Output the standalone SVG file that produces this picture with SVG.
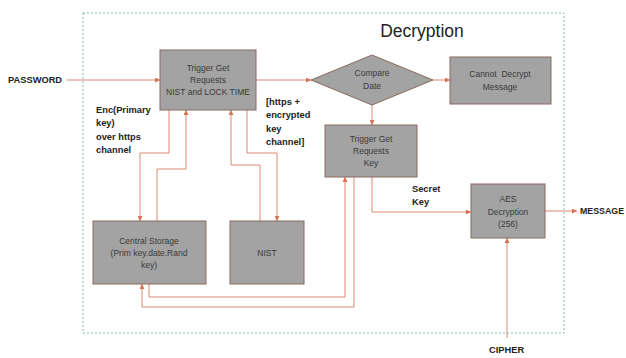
<svg xmlns="http://www.w3.org/2000/svg" width="626" height="358" viewBox="0 0 626 358">
<style>
.box{fill:#a3a3a3;stroke:#8a6a60;stroke-width:1}
.t{font-family:"Liberation Sans",Arial,sans-serif;font-size:8.5px;fill:#3a3a3a;text-anchor:middle}
.b{font-family:"Liberation Sans",Arial,sans-serif;font-size:9.3px;font-weight:bold;fill:#222}
.c{fill:none;stroke:#d98a70;stroke-width:1}
</style>
<defs>
<marker id="a" viewBox="0 0 6 6" refX="6" refY="3" markerWidth="5" markerHeight="5" orient="auto">
<path d="M0,0 L6,3 L0,6 z" fill="#d9704f"/>
</marker>
</defs>
<rect width="626" height="358" fill="#fff"/>
<rect x="83" y="13" width="481" height="320" fill="none" stroke="#7fbfb0" stroke-width="1" stroke-dasharray="2,2"/>
<text x="422" y="37" font-family="Liberation Sans,Arial,sans-serif" font-size="17.5" fill="#222" text-anchor="middle">Decryption</text>

<g id="connectors">
<path class="c" d="M67,80 H160" marker-end="url(#a)"/>
<path class="c" d="M256,80 H311" marker-end="url(#a)"/>
<path class="c" d="M433,80 H450" marker-end="url(#a)"/>
<path class="c" d="M372,105 V125" marker-end="url(#a)"/>
<path class="c" d="M169,110 V153 H140 V221" marker-end="url(#a)"/>
<path class="c" d="M157,221 V169 H186 V110" marker-end="url(#a)"/>
<path class="c" d="M260,221 V165 H231 V110" marker-end="url(#a)"/>
<path class="c" d="M247,110 V153 H277 V221" marker-end="url(#a)"/>
<path class="c" d="M149,284 V297 H345 V177" marker-end="url(#a)"/>
<path class="c" d="M354,177 V307 H142 V284" marker-end="url(#a)"/>
<path class="c" d="M372,177 V212 H471" marker-end="url(#a)"/>
<path class="c" d="M545,211 H577" marker-end="url(#a)"/>
<path class="c" d="M507,338 V238" marker-end="url(#a)"/>
</g>

<g id="password"><text class="b" x="8" y="83">PASSWORD</text></g>
<g id="message"><text class="b" x="580" y="214" textLength="44" lengthAdjust="spacingAndGlyphs">MESSAGE</text></g>
<g id="cipher"><text class="b" x="489" y="353">CIPHER</text></g>
<g id="label-enc">
<text class="b" x="96" y="113">Enc(Primary</text>
<text class="b" x="96" y="126">key)</text>
<text class="b" x="96" y="140">over https</text>
<text class="b" x="96" y="153">channel</text>
</g>
<g id="label-https">
<text class="b" x="266" y="105">[https +</text>
<text class="b" x="266" y="118">encrypted</text>
<text class="b" x="266" y="132">key</text>
<text class="b" x="266" y="145">channel]</text>
</g>
<g id="label-secret">
<text class="b" x="412" y="192">Secret</text>
<text class="b" x="412" y="205">Key</text>
</g>

<g id="trigger1">
<rect class="box" x="160" y="50" width="96" height="60"/>
<text class="t" x="208" y="71">Trigger Get</text>
<text class="t" x="208" y="83">Requests</text>
<text class="t" x="208" y="95">NIST and LOCK TIME</text>
</g>
<g id="compare">
<polygon class="box" points="372,55 433,80 372,105 311,80"/>
<text class="t" x="372" y="76">Compare</text>
<text class="t" x="372" y="89">Date</text>
</g>
<g id="cannot">
<rect class="box" x="450" y="57" width="101" height="47"/>
<text class="t" x="500" y="77" style="white-space:pre">Cannot  Decrypt</text>
<text class="t" x="500" y="90">Message</text>
</g>
<g id="trigger2">
<rect class="box" x="325" y="125" width="92" height="52"/>
<text class="t" x="371" y="142">Trigger Get</text>
<text class="t" x="371" y="154">Requests</text>
<text class="t" x="371" y="166">Key</text>
</g>
<g id="central">
<rect class="box" x="93" y="221" width="113" height="63"/>
<text class="t" x="149" y="244">Central Storage</text>
<text class="t" x="149" y="256">(Prim key.date.Rand</text>
<text class="t" x="149" y="268">key)</text>
</g>
<g id="nist">
<rect class="box" x="230" y="221" width="74" height="63"/>
<text class="t" x="267" y="256">NIST</text>
</g>
<g id="aes">
<rect class="box" x="471" y="184" width="74" height="54"/>
<text class="t" x="508" y="202">AES</text>
<text class="t" x="508" y="215">Decryption</text>
<text class="t" x="508" y="227">(256)</text>
</g>
</svg>
